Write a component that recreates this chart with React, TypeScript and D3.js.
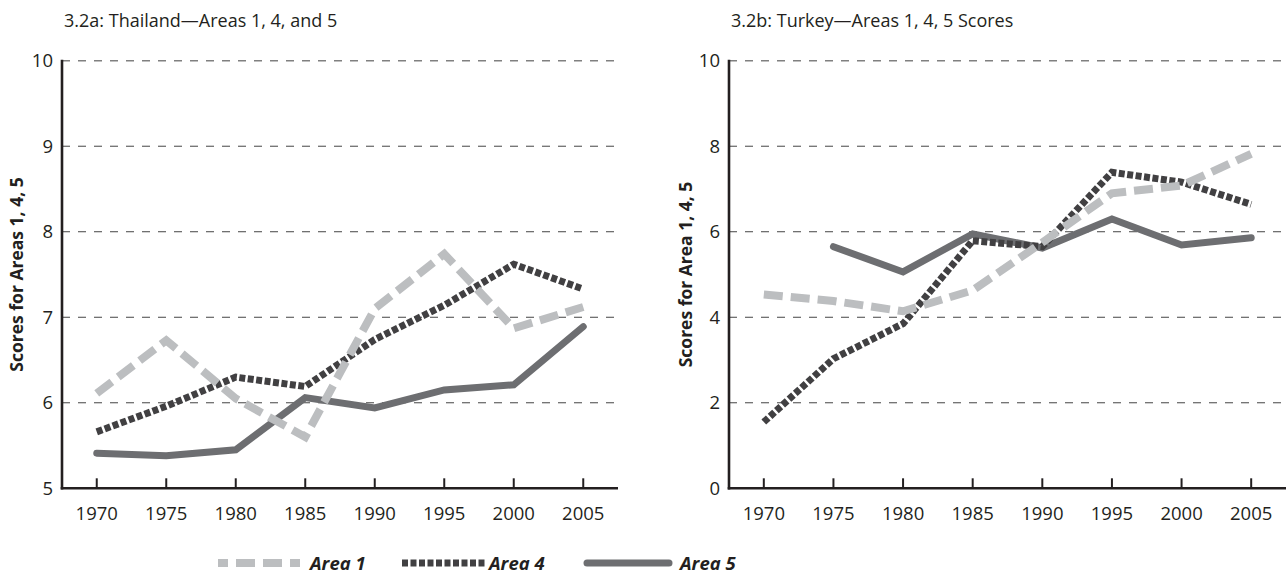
import React from "react";
import * as d3 from "d3";

const years = [1970, 1975, 1980, 1985, 1990, 1995, 2000, 2005];

const thaiArea1 = [6.11, 6.73, 6.05, 5.6, 7.1, 7.74, 6.87, 7.12];
const thaiArea4 = [5.66, 5.96, 6.3, 6.19, 6.74, 7.14, 7.62, 7.33];
const thaiArea5 = [5.41, 5.38, 5.45, 6.06, 5.94, 6.15, 6.21, 6.89];

const turkeyArea1 = [4.53, 4.38, 4.14, 4.63, 5.75, 6.9, 7.08, 7.82];
const turkeyArea4 = [1.55, 3.03, 3.85, 5.79, 5.65, 7.39, 7.16, 6.64];
const turkeyArea5: (number | null)[] = [null, 5.65, 5.06, 5.95, 5.62, 6.3, 5.69, 5.86];

const thaiTicks = [5, 6, 7, 8, 9, 10];
const turkeyTicks = [0, 2, 4, 6, 8, 10];

const seriesNames = ["Area 1", "Area 4", "Area 5"];

const FONT = "'Open Sans', 'Noto Sans', sans-serif";
const AXIS = "#231f20";

const styles: Record<string, any> = {
  "Area 1": { stroke: "#bcbec0", width: 8, dash: "19,8", cap: "butt" },
  "Area 4": { stroke: "#414042", width: 7, dash: "6,2.5", cap: "butt" },
  "Area 5": { stroke: "#6d6e71", width: 7, dash: null, cap: "round" },
};

type PanelProps = {
  x0: number;
  x1: number;
  title: string;
  yTitle: string;
  yTitleX: number;
  domain: [number, number];
  ticks: number[];
  series: { name: string; values: (number | null)[] }[];
};

function Panel({ x0, x1, title, yTitle, yTitleX, domain, ticks, series }: PanelProps) {
  const top = 60.7;
  const bottom = 488.3;
  const x = d3.scalePoint<number>().domain(years).range([x0, x1]).padding(0.5);
  const y = d3.scaleLinear().domain(domain).range([bottom, top]);
  const line = d3
    .line<{ yr: number; v: number | null }>()
    .defined((d) => d.v !== null)
    .x((d) => x(d.yr) as number)
    .y((d) => y(d.v as number));
  const order = ["Area 5", "Area 4", "Area 1"];
  return (
    <g>
      <text x={x0 + 2} y={27} fontFamily={FONT} fontSize={18} fill={AXIS}>
        {title}
      </text>
      {ticks.slice(1).map((t) => (
        <line
          key={t}
          x1={x0}
          x2={x1}
          y1={y(t)}
          y2={y(t)}
          stroke={t === domain[1] ? "#808080" : "#444"}
          strokeWidth={t === domain[1] ? 1.6 : 1}
          strokeDasharray="8,8"
        />
      ))}
      {ticks.map((t) => (
        <text
          key={t}
          x={x0 - 9}
          y={y(t)}
          dy="0.36em"
          textAnchor="end"
          fontFamily={FONT}
          fontSize={18.5}
          fill={AXIS}
        >
          {t}
        </text>
      ))}
      <text
        transform={`translate(${yTitleX},${(top + bottom) / 2}) rotate(-90)`}
        textAnchor="middle"
        fontFamily={FONT}
        fontSize={17.5}
        fontWeight="bold"
        fill={AXIS}
      >
        {yTitle}
      </text>
      {order.map((name) => {
        const s = series.find((q) => q.name === name)!;
        const st = styles[name];
        const data = years.map((yr, i) => ({ yr, v: s.values[i] }));
        return (
          <path
            key={name}
            d={line(data) || ""}
            fill="none"
            stroke={st.stroke}
            strokeWidth={st.width}
            strokeDasharray={st.dash || undefined}
            strokeLinecap={st.cap}
            strokeLinejoin="miter"
          />
        );
      })}
      <line x1={x0} x2={x0} y1={top - 1} y2={bottom + 1.2} stroke={AXIS} strokeWidth={2.6} />
      <line x1={x0 - 1.3} x2={x1} y1={bottom} y2={bottom} stroke={AXIS} strokeWidth={2.6} />
      {years.map((yr) => (
        <g key={yr}>
          <line
            x1={x(yr)}
            x2={x(yr)}
            y1={bottom}
            y2={bottom - 10}
            stroke={AXIS}
            strokeWidth={2}
          />
          <text
            x={x(yr)}
            y={519.5}
            textAnchor="middle"
            fontFamily={FONT}
            fontSize={18.5}
            fill={AXIS}
          >
            {yr}
          </text>
        </g>
      ))}
    </g>
  );
}

const legendItems = [
  { name: seriesNames[0], sx0: 218, sx1: 300, tx: 310 },
  { name: seriesNames[1], sx0: 402, sx1: 485, tx: 489 },
  { name: seriesNames[2], sx0: 587, sx1: 669, tx: 680 },
];

export default function App() {
  return (
    <svg
      width={1287}
      height={576}
      style={{ position: "absolute", left: 0, top: 0, background: "#fff" }}
    >
      <Panel
        x0={62}
        x1={618}
        title="3.2a: Thailand—Areas 1, 4, and 5"
        yTitle="Scores for Areas 1, 4, 5"
        yTitleX={23}
        domain={[5, 10]}
        ticks={thaiTicks}
        series={[
          { name: "Area 1", values: thaiArea1 },
          { name: "Area 4", values: thaiArea4 },
          { name: "Area 5", values: thaiArea5 },
        ]}
      />
      <Panel
        x0={729}
        x1={1286}
        title="3.2b: Turkey—Areas 1, 4, 5 Scores"
        yTitle="Scores for Area 1, 4, 5"
        yTitleX={692}
        domain={[0, 10]}
        ticks={turkeyTicks}
        series={[
          { name: "Area 1", values: turkeyArea1 },
          { name: "Area 4", values: turkeyArea4 },
          { name: "Area 5", values: turkeyArea5 },
        ]}
      />
      {legendItems.map((it) => {
        const st = styles[it.name];
        return (
          <g key={it.name}>
            <line
              x1={it.sx0}
              x2={it.sx1}
              y1={563}
              y2={563}
              stroke={st.stroke}
              strokeWidth={st.width}
              strokeDasharray={st.dash || undefined}
              strokeDashoffset={it.name === "Area 1" ? 9 : 0}
              strokeLinecap={st.cap}
            />
            <text
              x={it.tx}
              y={570}
              fontFamily={FONT}
              fontSize={18.5}
              fontWeight="bold"
              fontStyle="italic"
              fill={AXIS}
            >
              {it.name}
            </text>
          </g>
        );
      })}
    </svg>
  );
}
